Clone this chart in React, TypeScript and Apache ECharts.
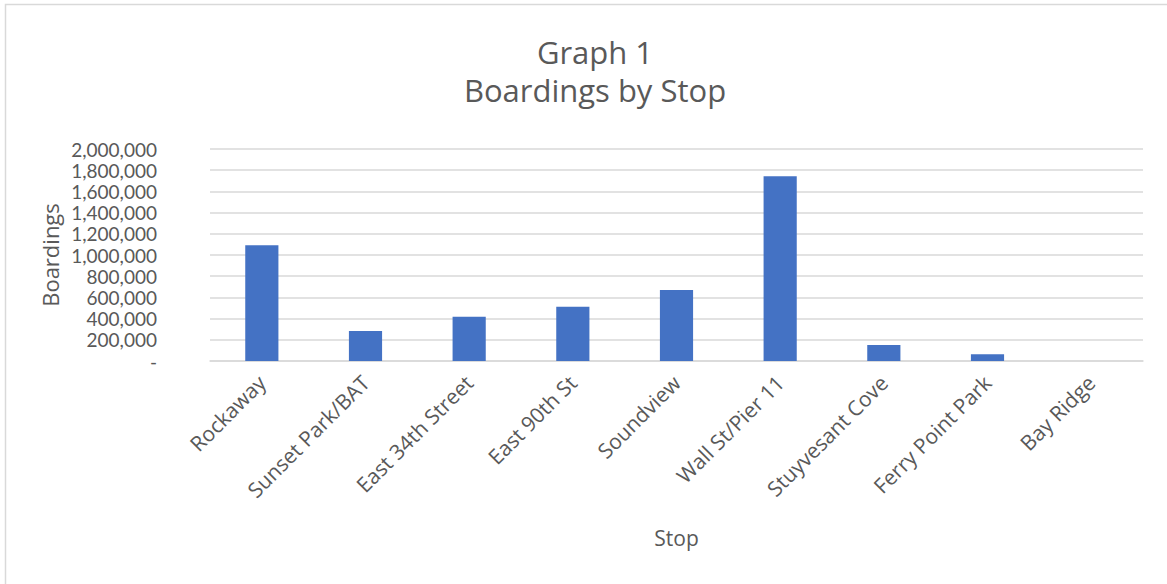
import React, { useEffect, useRef } from "react";
import * as echarts from "echarts";

const categories = [
  "Rockaway",
  "Sunset Park/BAT",
  "East 34th Street",
  "East 90th St",
  "Soundview",
  "Wall St/Pier 11",
  "Stuyvesant Cove",
  "Ferry Point Park",
  "Bay Ridge",
];
const boardings = [1093000, 283000, 418000, 512000, 669000, 1742000, 151000, 63000, 0];
const titleLines = ["Graph 1", "Boardings by Stop"];
const yAxisName = "Boardings";
const xAxisName = "Stop";

const FONT = "'Open Sans', sans-serif";
const NUMFONT = "Lato, 'Open Sans', sans-serif";
const TEXT = "#595959";

export default function App() {
  const ref = useRef<HTMLDivElement>(null);
  useEffect(() => {
    document.body.style.margin = "0";
    const chart = echarts.init(ref.current!, null, { renderer: "svg" });
    chart.setOption({
      animation: false,
      backgroundColor: "#ffffff",
      textStyle: { fontFamily: FONT },
      title: {
        text: titleLines.join("\n"),
        left: 590,
        top: 28,
        textAlign: "center",
        textStyle: {
          fontFamily: FONT,
          fontSize: 31,
          fontWeight: "normal",
          color: TEXT,
          lineHeight: 38,
        },
      },
      graphic: [
        {
          type: "rect",
          shape: { x: 5.5, y: 4.5, width: 1300, height: 700 },
          style: { fill: "none", stroke: "#d9d9d9", lineWidth: 1.5 },
          silent: true,
        },
      ],
      grid: { left: 210, right: 24, top: 149, bottom: 223, containLabel: false },
      xAxis: {
        type: "category",
        data: categories,
        name: xAxisName,
        nameLocation: "middle",
        nameGap: 166,
        nameMoveOverlap: false,
        nameTextStyle: { fontFamily: FONT, fontSize: 21, color: TEXT },
        axisLine: { lineStyle: { color: "#d9d9d9", width: 1.5 } },
        axisTick: { show: false },
        axisLabel: {
          rotate: 45,
          interval: 0,
          fontFamily: FONT,
          fontSize: 21,
          color: TEXT,
          margin: 18,
        },
      },
      yAxis: {
        type: "value",
        min: 0,
        max: 2000000,
        interval: 200000,
        name: yAxisName,
        nameLocation: "middle",
        nameGap: 149,
        nameMoveOverlap: false,
        nameRotate: 90,
        nameTextStyle: { fontFamily: FONT, fontSize: 22, color: TEXT },
        axisLine: { show: false },
        axisTick: { show: false },
        splitLine: { lineStyle: { color: "#d9d9d9", width: 1.5 } },
        axisLabel: {
          fontFamily: NUMFONT,
          fontSize: 19,
          lineHeight: 20,
          color: TEXT,
          margin: 53,
          formatter: (v: number) => (v === 0 ? "-" : v.toLocaleString("en-US")),
        },
      },
      series: [
        {
          type: "bar",
          data: boardings,
          barWidth: "32%",
          itemStyle: { color: "#4472c4" },
        },
      ],
    });
    return () => chart.dispose();
  }, []);
  return <div ref={ref} style={{ width: 1167, height: 584 }} />;
}
